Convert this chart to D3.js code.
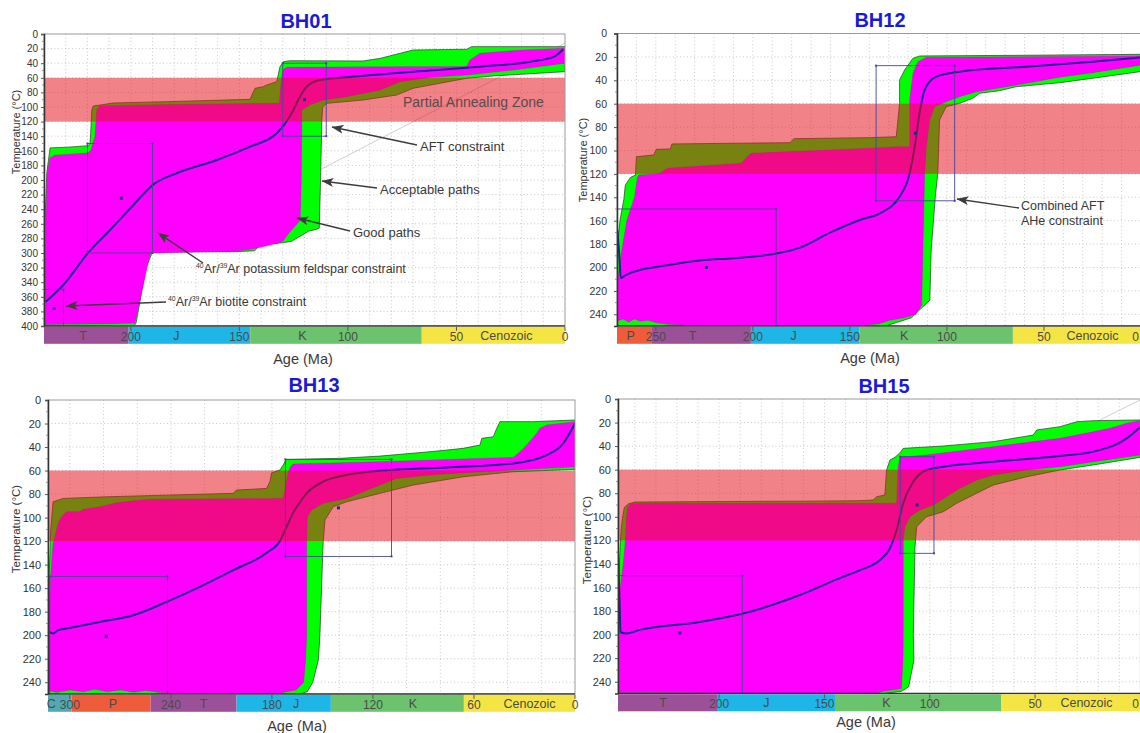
<!DOCTYPE html>
<html><head><meta charset="utf-8">
<script src="https://cdn.jsdelivr.net/npm/d3@7"></script>
<style>body{margin:0;background:#fff}svg{display:block;font-family:"Liberation Sans",Arial,sans-serif}</style>
</head><body>
<svg id="c" width="1140" height="733"></svg>
<script>
// ---------------- DATA ----------------
const periods = [
  {name:"C", start:359, end:299, color:"#52a9b2"},
  {name:"P", start:299, end:252, color:"#ef5c3c"},
  {name:"T", start:252, end:201, color:"#9a5198"},
  {name:"J", start:201, end:145, color:"#1eb6e6"},
  {name:"K", start:145, end:66,  color:"#6cc36d"},
  {name:"Cenozoic", start:66, end:0, color:"#f5e544"}
];
const pazRange = [60, 120];

// BH01
const bh01AgeTicks = [200,150,100,50,0];
const bh01PeriodLabels = [["T",222],["J",179],["K",121],["Cenozoic",27]];
const bh01AccUpper = [[240,330],[239.6,260],[239.2,227],[238.7,190],[237.2,156],[229,155],[219.6,153],[218.8,150],[218.5,136],[218,104],[217.3,98.6],[214.2,97.3],[208.2,94.5],[183.5,92.7],[145.1,89.5],[142.8,74.4],[139.1,72.2],[137.4,69.9],[132.8,65.3],[131.3,44.8],[129.8,38],[126.7,36.6],[93,37],[85,33.3],[70,21.9],[45.3,20.9],[43,17.3],[0,17.3]];
const bh01AccLower = [[240,400],[198.5,400],[197.6,396],[196,370],[194.5,345],[193,320],[190.5,302],[189.5,299],[170,298.5],[150,298],[143,297],[141,291],[137,288],[130,286],[126,284],[122,277],[118,270],[115,268],[113.2,266],[112.6,200],[112,118],[111.6,100],[109.8,95],[92.9,90.4],[77.5,83.6],[70,74.4],[57.6,67.5],[45.3,60.7],[33,57.5],[0,51.6]];
const bh01GoodUpper = [[240,400],[239.4,300],[238.6,191],[237.2,170],[235.3,166],[219.6,163],[218.4,159],[216.5,140],[215.7,104],[214.5,98.6],[200,97.5],[180,96.5],[150,95.5],[131.6,95],[130.9,70],[130.3,55],[129.8,49],[128.2,45.5],[90,45],[45.3,44.5],[43.8,35.6],[39.2,26.4],[20,22],[0,19.6]];
const bh01GoodLower = [[240,398],[210,397],[198.2,396],[191,300],[170,298.5],[150,297],[143,294],[140,292],[135,288.5],[130,284],[127,272],[124,262],[122,255],[121.5,200],[121.3,130],[121.3,104],[117.5,97],[111.3,90.4],[100.6,85.8],[85.2,76.7],[76,65.3],[62.2,59.4],[45.3,56.2],[23.8,49.3],[0,40]];
const bh01Best = [[239.2,366.7],[231.1,343.8],[219.6,299.5],[209.6,268.5],[198.8,234.2],[189.6,206],[178.9,190.8],[160.4,172.6],[145.1,154.4],[132.8,136],[129,123],[125.1,104],[122.1,86],[119,72.2],[112.9,63],[100.6,59.3],[69.9,51.6],[39.2,44.8],[16.1,37.9],[5,31],[0.8,21]];
const bh01Boxes = [[220,190,150,300,204.4,225],[240,231,350,400,235.3,376],[130,110,40,140,120,90]];
const bh01Grey = [[122,200],[0,12.6]];

// BH12
const bh12AgeTicks = [250,200,150,100,50,0];
const bh12PeriodLabels = [["P",263],["T",231],["J",179],["K",122],["Cenozoic",25]];
const bh12AccUpper = [[270,250],[270,185],[268.5,160],[266.5,142],[265.7,129.5],[263.1,123],[260.5,121],[260,105.3],[251.1,103.8],[249.7,99],[242.5,98.7],[241.7,94.4],[180.9,93.3],[178.8,89.9],[139.8,89],[126.1,88.2],[124.4,59.7],[124.4,39.7],[121.8,31.2],[117.5,21.2],[114.1,19.2],[60,18.6],[0,17.8]];
const bh12AccLower = [[270,250],[131.5,250],[125.9,247],[118.3,243],[114.6,237],[108.8,228],[108.1,185],[106,140],[104.7,119.5],[103.8,74],[100.4,62.6],[93.5,59.7],[86.7,55.4],[83.2,51.1],[73,48.9],[64.4,45.5],[42.1,42.1],[25,38.3],[0,32.5]];
const bh12GoodUpper = [[270,250],[270,215],[268,190],[265,160],[261,140],[259.5,123],[258.8,121],[250,120],[247.7,119.5],[245.5,116.7],[244,115.2],[206,111],[202,103.8],[201,102.4],[139.8,98.1],[126.1,96.7],[119.2,96.7],[119.2,56.8],[117.5,34],[114.9,24.1],[110.6,20.3],[60,19.8],[0,19.2]];
const bh12GoodLower = [[270,246],[267,244],[264,246.5],[261,244],[258,246],[254,245],[250,247],[244,248.5],[230,249.5],[163,250],[144.4,249.6],[135,248],[129.5,245],[122,243],[116,240],[113,232],[112.4,185],[111.5,119.5],[110.6,96.8],[108.9,73.9],[106.4,62.6],[100.4,58.3],[93.5,54],[84.9,49.7],[59.2,42.6],[42.1,37.4],[25,33.5],[0,26.9]];
const bh12Best = [[269.8,168],[268.8,190],[268,209],[266,207],[262,204],[258,202],[247.7,199],[227.1,194],[210,192],[191.2,189],[175.7,183],[160,170],[144.9,159.4],[134.6,153.7],[124.4,139.5],[119.2,119.5],[116.6,96.8],[114.1,68.2],[111.5,48.3],[105.5,36.9],[93.5,32.6],[59.2,28.4],[25,24.1],[0,20.4]];
const bh12Boxes = [[270,188,150,250,224,200],[136.5,96,27.5,143,116.2,85.3]];

// BH13
const bh13AgeTicks = [300,240,180,120,60,0];
const bh13PeriodLabels = [["C",311],["P",274.5],["T",220.6],["J",165.6],["K",96.3],["Cenozoic",27]];
const bh13AccUpper = [[313,250],[313,165],[312.4,150],[311.8,130],[311.4,110.6],[310,86.6],[304,83.7],[278.3,82.3],[242.6,80.9],[203,79.4],[201,76.6],[183.2,75.2],[181.2,69.5],[180.2,61.9],[175.3,59.6],[173.3,55.3],[171.7,50.5],[169.3,50.5],[139.6,49.6],[115.9,47.7],[86.2,44],[76.2,42.6],[66.4,41.1],[56.4,38.3],[55.4,32.6],[48.5,31.2],[46.5,24.1],[44.6,18.4],[24.8,18.4],[0,17]];
const bh13AccLower = [[313,250],[163.4,250],[159,248],[155.7,240],[152.4,221],[151.5,200],[149.6,122],[148.5,102.1],[143.6,90.8],[135.7,86.6],[115.9,79.4],[96.1,72.3],[66.4,65.3],[36.7,61],[0,59]];
const bh13GoodUpper = [[313,250],[312.5,200],[311.5,150],[310,122],[307,105],[305,99.3],[302,95],[294.1,95],[292.1,93],[282.2,90.8],[278.3,89.4],[272.3,87.4],[262.4,85.7],[252.5,84.5],[173.3,83.7],[172,75],[170.5,62],[169,57],[167.4,54.5],[155.5,53.9],[115.9,52.5],[76.2,50.5],[36.7,48.8],[32.7,44],[28.7,38.3],[22.8,28.4],[20.8,24.1],[16.8,21.3],[0,18.4]];
const bh13GoodLower = [[313,247],[308,248.5],[300,246.5],[292,248],[285,246],[278,248],[270,246.5],[262,248.5],[255,247],[245,249],[230,249.5],[176.6,249.5],[165.6,246.5],[161.2,240.2],[160,221.3],[159.4,200],[159.4,119.1],[159,99.3],[156.5,93.6],[149.6,87.9],[135.7,83.7],[115.9,72.3],[106,66.7],[86.2,63.8],[66.4,61.8],[36.7,59.6],[0,56.8]];
const bh13Best = [[312.4,197.2],[310,198.6],[307,195.7],[302,194.3],[282.2,188.7],[262.4,183],[242.6,171.7],[222.8,158.9],[203,144.7],[183.2,130],[175.3,120],[171.3,108],[167.4,96],[163.4,87],[159.4,79.4],[149.6,69.5],[135.7,63.8],[115.9,60.2],[76.2,57.3],[36.7,53.9],[16.8,46.8],[7,36.9],[0,19.8]];
const bh13Boxes = [[312,242,150,250,278.4,200.9],[172,109,50.5,133,140.5,91.7]];

// BH15
const bh15AgeTicks = [200,150,100,50,0];
const bh15PeriodLabels = [["T",226.6],["J",177.6],["K",120.6],["Cenozoic",25.6]];
const bh15AccUpper = [[248,250],[248,175],[247.5,150],[247,125],[246.5,110],[245.8,100],[245,92],[243,89],[240,87.5],[200,87],[160,86.7],[133.1,86.3],[126.8,85.7],[125.2,82.9],[121.3,81.5],[120.5,60.3],[118.9,51.8],[116.5,49.5],[114.1,45.6],[112.6,41.9],[93.6,39.9],[69.8,36.2],[50.9,30.6],[49.2,26.3],[38.2,23.5],[30.2,19.3],[22.4,18.4],[0,17.8]];
const bh15AccLower = [[248,250],[122,250],[113.5,248.2],[110,244.3],[107.5,221.6],[107.8,200],[107,125.4],[106.2,108.4],[101.5,99.9],[93.6,95.7],[87.2,88.5],[77.7,80],[69.8,73],[54,66],[38.2,60.3],[22.4,56],[0,49.5]];
const bh15GoodUpper = [[248,250],[247.8,200],[247,160],[245.5,140],[244.5,120],[244,100],[243.5,92],[242,89],[235,88.5],[115.7,88.5],[115,57.5],[114.1,49.5],[101.5,47.5],[69.8,40.5],[38.2,33.4],[22.4,27.8],[14.4,24.9],[6.5,20.6],[0,18.4]];
const bh15GoodLower = [[248,249],[200,249.5],[125,249.5],[121.9,248],[113.5,245.8],[112.7,221.6],[112.6,200],[112.6,119.7],[111.8,108.4],[109.4,99.9],[104.7,94.2],[98.3,90],[92,82.9],[85.7,75.8],[77.7,68.8],[69.8,64.5],[54,60.3],[38.2,57.5],[22.4,53.2],[0,47.5]];
const bh15Best = [[248,132],[247.2,175],[246.8,198],[244,199],[237.6,196],[209.2,189.3],[187.7,181.7],[161.7,166.4],[142.7,152],[133.1,145.2],[123.6,136.7],[118.9,126.7],[115.7,111.2],[112.6,88.5],[107.8,70.2],[101.5,60.3],[93.6,57.5],[69.8,53.2],[38.2,48.4],[22.4,44.7],[6.5,33.4],[0,23.5]];
const bh15Boxes = [[248,189,150,250,218.6,198.6],[114,98,49,131,106,90]];
const bh15Grey = [[40,36.4],[0,0.7]];

// ---------------- LAYOUT ----------------
const panels = [
  {key:"bh01", title:"BH01", ageMax:240, tMax:400, tStep:20, gridAge:10, x0:44, x1:565, y0:34, y1:326,
   ticks:bh01AgeTicks, labels:bh01PeriodLabels, accU:bh01AccUpper, accL:bh01AccLower, goodU:bh01GoodUpper, goodL:bh01GoodLower,
   best:bh01Best, boxes:bh01Boxes, grey:bh01Grey, titleX:306, titleY:28, yLabX:16, yLabY:132, yLabSize:11, ageLabX:303, ageLabY:364, tickFont:10, tickPad:3},
  {key:"bh12", title:"BH12", ageMax:270, tMax:250, tStep:20, gridAge:10, x0:617, x1:1141, y0:33.5, y1:326,
   ticks:bh12AgeTicks, labels:bh12PeriodLabels, accU:bh12AccUpper, accL:bh12AccLower, goodU:bh12GoodUpper, goodL:bh12GoodLower,
   best:bh12Best, boxes:bh12Boxes, grey:null, titleX:880, titleY:27, yLabX:583, yLabY:160, yLabSize:11, ageLabX:870, ageLabY:363, tickFont:10.5, tickPad:7},
  {key:"bh13", title:"BH13", ageMax:313, tMax:250, tStep:20, gridAge:20, x0:48, x1:575, y0:400, y1:694,
   ticks:bh13AgeTicks, labels:bh13PeriodLabels, accU:bh13AccUpper, accL:bh13AccLower, goodU:bh13GoodUpper, goodL:bh13GoodLower,
   best:bh13Best, boxes:bh13Boxes, grey:null, titleX:314, titleY:392, yLabX:16, yLabY:529, yLabSize:11.5, ageLabX:297, ageLabY:731, tickFont:11, tickPad:4},
  {key:"bh15", title:"BH15", ageMax:248, tMax:250, tStep:20, gridAge:10, x0:618, x1:1140.4, y0:399, y1:693.5,
   ticks:bh15AgeTicks, labels:bh15PeriodLabels, accU:bh15AccUpper, accL:bh15AccLower, goodU:bh15GoodUpper, goodL:bh15GoodLower,
   best:bh15Best, boxes:bh15Boxes, grey:bh15Grey, titleX:884, titleY:393, yLabX:587, yLabY:540, yLabSize:11.5, ageLabX:866, ageLabY:727, tickFont:11, tickPad:4}
];

const annotations = [
  {lines:["Partial Annealing Zone"], x:403, y:107, size:14, fill:"#5a4a4a"},
  {lines:["AFT constraint"], x:420, y:151, size:13, arrow:[417,145,332,127]},
  {lines:["Acceptable paths"], x:380, y:194, size:13, arrow:[377,188,322,181]},
  {lines:["Good paths"], x:353, y:237, size:13, arrow:[350,231,297,218]},
  {ar:"potassium feldspar constraint", x:196, y:273, size:12.5, arrow:[203,263,158,233]},
  {ar:"biotite constraint", x:168, y:306, size:12.5, arrow:[166,302,66,306]},
  {lines:["Combined AFT","AHe constraint"], x:1021, y:210, size:12.5, arrow:[1019,208,957,199]}
];

// ---------------- DRAW ----------------
const svg = d3.select("#c");
const defs = svg.append("defs");
defs.append("marker").attr("id","ah").attr("viewBox","0 0 12 9").attr("refX",11.5).attr("refY",4.5)
  .attr("markerWidth",12).attr("markerHeight",9).attr("markerUnits","userSpaceOnUse").attr("orient","auto")
  .append("path").attr("d","M12,4.5 L0,0 L3,4.5 L0,9 Z").attr("fill","#3c3c3c");

panels.forEach(p => {
  const x = d3.scaleLinear().domain([p.ageMax,0]).range([p.x0,p.x1]);
  const y = d3.scaleLinear().domain([0,p.tMax]).range([p.y0,p.y1]);
  const line = d3.line().x(d=>x(d[0])).y(d=>y(d[1]));
  const smooth = d3.line().x(d=>x(d[0])).y(d=>y(d[1])).curve(d3.curveMonotoneX);
  const g = svg.append("g");
  defs.append("clipPath").attr("id","clip-"+p.key).append("rect")
    .attr("x",p.x0).attr("y",p.y0).attr("width",p.x1-p.x0).attr("height",p.y1-p.y0);
  const plot = g.append("g").attr("clip-path",`url(#clip-${p.key})`);

  // grid
  plot.selectAll(".gx").data(d3.range(p.gridAge, p.ageMax, p.gridAge)).join("line")
    .attr("x1",d=>x(d)).attr("x2",d=>x(d)).attr("y1",p.y0).attr("y2",p.y1)
    .attr("stroke","#bdbdbd").attr("stroke-width",0.8).attr("stroke-dasharray","1,2.5");
  plot.selectAll(".gy").data(d3.range(p.tStep, p.tMax, p.tStep)).join("line")
    .attr("y1",d=>y(d)).attr("y2",d=>y(d)).attr("x1",p.x0).attr("x2",p.x1)
    .attr("stroke","#bdbdbd").attr("stroke-width",0.8).attr("stroke-dasharray","1,2.5");

  if (p.grey) plot.append("path").attr("d",line(p.grey)).attr("fill","none").attr("stroke","#c8c8c8").attr("stroke-width",0.9);

  const poly = (u,l) => line(u.concat(l.slice().reverse())) + "Z";
  plot.append("path").attr("d",poly(p.accU,p.accL)).attr("fill","#00ff00").attr("stroke","#2a3a2a").attr("stroke-width",0.7);
  plot.append("path").attr("d",poly(p.goodU,p.goodL)).attr("fill","#ff00ff").attr("stroke","#b000b0").attr("stroke-width",0.3);
  plot.append("path").attr("d",smooth(p.best)).attr("fill","none").attr("stroke","#1f1f96").attr("stroke-width",2);

  // PAZ
  plot.append("rect").attr("x",p.x0).attr("width",p.x1-p.x0).attr("y",y(pazRange[0])).attr("height",y(pazRange[1])-y(pazRange[0]))
    .attr("fill","rgb(226,19,30)").attr("fill-opacity",0.53);

  // boxes
  p.boxes.forEach(b => {
    const bx0 = x(b[0]), bx1 = x(b[1]), by0 = y(b[2]), by1 = y(b[3]);
    plot.append("rect").attr("x",bx0).attr("y",by0).attr("width",bx1-bx0).attr("height",by1-by0)
      .attr("fill","none").attr("stroke","#46469a").attr("stroke-width",0.9);
    [[bx0,by0],[bx1,by0],[bx0,by1],[bx1,by1]].forEach(c => plot.append("rect").attr("x",c[0]-1).attr("y",c[1]-1).attr("width",2).attr("height",2).attr("fill","#46469a"));
    plot.append("rect").attr("x",x(b[4])-1.5).attr("y",y(b[5])-1.5).attr("width",3).attr("height",3).attr("fill","#2a2a80");
  });

  // frame
  g.append("rect").attr("x",p.x0).attr("y",p.y0).attr("width",p.x1-p.x0).attr("height",p.y1-p.y0)
    .attr("fill","none").attr("stroke","#9a9a9a").attr("stroke-width",1);
  g.append("line").attr("x1",p.x0).attr("x2",p.x1).attr("y1",p.y1).attr("y2",p.y1).attr("stroke","#333").attr("stroke-width",1.5);

  // y axis
  const ya = g.append("g").attr("transform",`translate(${p.x0},0)`)
    .call(d3.axisLeft(y).tickValues(d3.range(0,p.tMax+0.1,p.tStep)).tickSize(3).tickPadding(p.tickPad));
  ya.select(".domain").attr("stroke","#333").attr("stroke-width",1.5);
  ya.selectAll(".tick line").attr("stroke","#555");
  ya.selectAll("text").attr("font-size",p.tickFont).attr("fill","#333").attr("font-family","Liberation Sans, Arial, sans-serif");
  g.selectAll(".minor").data(d3.range(p.tStep/2, p.tMax, p.tStep)).join("line")
    .attr("x1",p.x0-2).attr("x2",p.x0).attr("y1",d=>y(d)).attr("y2",d=>y(d)).attr("stroke","#777").attr("stroke-width",0.8);

  // timescale bar
  const bar = g.append("g");
  const by = p.y1 + 0.8, bh = 17;
  periods.filter(d => d.end < p.ageMax).forEach(d => {
    const xa = x(Math.min(d.start,p.ageMax)), xb = Math.min(x(d.end), p.x1);
    bar.append("rect").attr("x",xa).attr("y",by).attr("width",xb-xa).attr("height",bh).attr("fill",d.color);
  });
  bar.selectAll(".at").data(p.ticks).join("line").attr("x1",d=>x(d)).attr("x2",d=>x(d)).attr("y1",by).attr("y2",by+4)
    .attr("stroke","#555").attr("stroke-width",1);
  bar.selectAll(".atl").data(p.ticks).join("text").attr("x",d=>Math.min(x(d),1139))
    .attr("y",by+14).attr("text-anchor",d=>x(d)>1134?"end":"middle")
    .attr("font-size",12).attr("fill","#4a4a4a").text(d=>d);
  bar.selectAll(".pl").data(p.labels).join("text").attr("x",d=>x(d[1])).attr("y",by+13).attr("text-anchor","middle")
    .attr("font-size",12.5).attr("fill","#4a4a4a").text(d=>d[0]);

  // titles & labels
  g.append("text").attr("x",p.titleX).attr("y",p.titleY).attr("text-anchor","middle").attr("font-size",20).attr("font-weight","bold")
    .attr("fill","#1b1bd6").text(p.title);
  g.append("text").attr("transform",`translate(${p.yLabX},${p.yLabY}) rotate(-90)`).attr("text-anchor","middle").attr("dy","0.35em")
    .attr("font-size",p.yLabSize).attr("fill","#333").text("Temperature (°C)");
  g.append("text").attr("x",p.ageLabX).attr("y",p.ageLabY).attr("text-anchor","middle").attr("font-size",14.5).attr("fill","#3a3a3a").text("Age (Ma)");
});

// annotations
annotations.forEach(a => {
  if (a.arrow) svg.append("line").attr("x1",a.arrow[0]).attr("y1",a.arrow[1]).attr("x2",a.arrow[2]).attr("y2",a.arrow[3])
    .attr("stroke","#3c3c3c").attr("stroke-width",1.4).attr("marker-end","url(#ah)");
  const t = svg.append("text").attr("x",a.x).attr("y",a.y).attr("font-size",a.size).attr("fill",a.fill||"#383838");
  if (a.ar) {
    t.append("tspan").attr("font-size",a.size*0.55).attr("dy",-5).text("40");
    t.append("tspan").attr("dy",5).text("Ar/");
    t.append("tspan").attr("font-size",a.size*0.55).attr("dy",-5).text("39");
    t.append("tspan").attr("dy",5).text("Ar " + a.ar);
  } else {
    a.lines.forEach((l,i) => t.append("tspan").attr("x",a.x).attr("dy",i?a.size*1.18:0).text(l));
  }
});
</script>
</body></html>
